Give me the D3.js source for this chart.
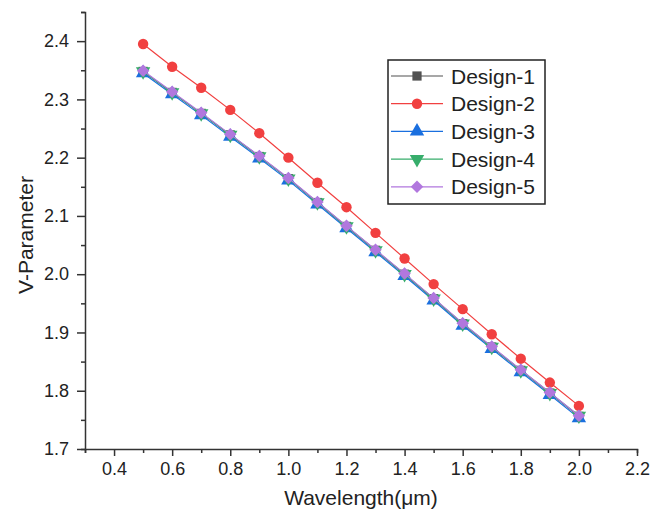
<!DOCTYPE html>
<html>
<head>
<meta charset="utf-8">
<script src="https://cdn.jsdelivr.net/npm/d3@7"></script>
<style>
  body { margin: 0; background: #fff; }
  svg { font-family: "Liberation Sans", Arial, sans-serif; }
</style>
</head>
<body>
<div id="container"></div>
<script>
/* DATA */
const wavelength = [0.5, 0.6, 0.7, 0.8, 0.9, 1.0, 1.1, 1.2, 1.3, 1.4, 1.5, 1.6, 1.7, 1.8, 1.9, 2.0];
const design1 = [2.348, 2.312, 2.276, 2.239, 2.202, 2.164, 2.123, 2.082, 2.041, 2.000, 1.958, 1.915, 1.875, 1.835, 1.796, 1.756];
const design2 = [2.395, 2.356, 2.320, 2.282, 2.242, 2.200, 2.157, 2.115, 2.071, 2.027, 1.983, 1.940, 1.897, 1.855, 1.814, 1.774];
const design3 = [2.345, 2.309, 2.273, 2.236, 2.199, 2.161, 2.120, 2.079, 2.038, 1.997, 1.955, 1.912, 1.872, 1.832, 1.793, 1.753];
const design4 = [2.348, 2.312, 2.276, 2.239, 2.202, 2.164, 2.123, 2.082, 2.041, 2.000, 1.958, 1.915, 1.875, 1.835, 1.796, 1.757];
const design5 = [2.349, 2.313, 2.277, 2.240, 2.203, 2.165, 2.124, 2.083, 2.042, 2.001, 1.959, 1.916, 1.876, 1.836, 1.797, 1.757];
const seriesNames = ["Design-1", "Design-2", "Design-3", "Design-4", "Design-5"];
const seriesColors = ["#515151", "#F14040", "#1A6FDF", "#37AD6B", "#B177DE"];
const xMajor = [0.4, 0.6, 0.8, 1.0, 1.2, 1.4, 1.6, 1.8, 2.0, 2.2];
const xMinor = [0.3, 0.5, 0.7, 0.9, 1.1, 1.3, 1.5, 1.7, 1.9, 2.1];
const yMajor = [1.7, 1.8, 1.9, 2.0, 2.1, 2.2, 2.3, 2.4];
const yMinor = [1.75, 1.85, 1.95, 2.05, 2.15, 2.25, 2.35, 2.45];

/* CONSTANTS */
const width = 660, height = 518;
const margin = { top: 12, right: 23, bottom: 69, left: 85 };

// marker: symbol type, size, rotation (down triangle = triangle turned, diamond = square turned)
const series = [design1, design2, design3, design4, design5].map((vals, i) => ({
  name: seriesNames[i],
  color: seriesColors[i],
  symbol: [d3.symbolSquare, d3.symbolCircle, d3.symbolTriangle, d3.symbolTriangle, d3.symbolSquare][i],
  rot: [0, 0, 0, 180, 45][i],
  size: [85, 85, 90, 90, 78][i],
  values: vals.map((v, j) => ({ x: wavelength[j], y: v }))
}));

const svg = d3.select("#container").append("svg")
  .attr("width", width)
  .attr("height", height);

const xScale = d3.scaleLinear()
  .domain([0.3, 2.2])
  .range([margin.left, width - margin.right]);

const yScale = d3.scaleLinear()
  .domain([1.7, 2.45])
  .range([height - margin.bottom, margin.top]);

const axisColor = "#333";

// x axis: minor, then major
const xg = svg.append("g").attr("transform", `translate(0, ${height - margin.bottom})`);
xg.call(d3.axisBottom(xScale).tickValues(xMinor).tickSize(4).tickFormat(""));
xg.append("g").call(d3.axisBottom(xScale).tickValues(xMajor).tickSize(7).tickPadding(6).tickFormat(d3.format(".1f")));
xg.selectAll("path.domain").attr("stroke", axisColor).attr("stroke-width", 1.5);
xg.selectAll("g g path.domain").remove();
xg.selectAll(".tick line").attr("stroke", axisColor).attr("stroke-width", 1.5);
xg.selectAll(".tick text").attr("fill", "#222").style("font-size", "18px");

// y axis
const yg = svg.append("g").attr("transform", `translate(${margin.left}, 0)`);
yg.call(d3.axisLeft(yScale).tickValues(yMinor).tickSize(4).tickFormat(""));
yg.append("g").call(d3.axisLeft(yScale).tickValues(yMajor).tickSize(8).tickPadding(8).tickFormat(d3.format(".1f")));
yg.selectAll("path.domain").attr("stroke", axisColor).attr("stroke-width", 1.5);
yg.selectAll("g g path.domain").remove();
yg.selectAll(".tick line").attr("stroke", axisColor).attr("stroke-width", 1.5);
yg.selectAll(".tick text").attr("fill", "#222").style("font-size", "18px");

// axis titles
svg.append("text")
  .attr("x", (margin.left + width - margin.right) / 2)
  .attr("y", 505)
  .attr("text-anchor", "middle")
  .style("font-size", "21px")
  .attr("fill", "#222")
  .text("Wavelength(μm)");

svg.append("text")
  .attr("transform", `translate(33, 235) rotate(-90)`)
  .attr("text-anchor", "middle")
  .style("font-size", "21px")
  .attr("fill", "#222")
  .text("V-Parameter");

// lines and markers
const line = d3.line().x(d => xScale(d.x)).y(d => yScale(d.y));

series.forEach(s => {
  const g = svg.append("g");
  g.append("path")
    .datum(s.values)
    .attr("fill", "none")
    .attr("stroke", s.color)
    .attr("stroke-width", 1.2)
    .attr("d", line);
  g.selectAll("path.pt")
    .data(s.values)
    .join("path")
    .attr("class", "pt")
    .attr("d", d3.symbol().type(s.symbol).size(s.size))
    .attr("transform", d => `translate(${xScale(d.x)}, ${yScale(d.y)}) rotate(${s.rot})`)
    .attr("fill", s.color);
});

// legend
const legend = svg.append("g");
legend.append("rect")
  .attr("x", 388).attr("y", 60)
  .attr("width", 157).attr("height", 144)
  .attr("fill", "#fff")
  .attr("stroke", "#222")
  .attr("stroke-width", 1.5);

const rows = legend.selectAll("g.row")
  .data(series)
  .join("g")
  .attr("class", "row")
  .attr("transform", (d, i) => `translate(0, ${76 + i * 27.7})`);

rows.append("line")
  .attr("x1", 391).attr("x2", 443)
  .attr("stroke", d => d.color)
  .attr("stroke-width", 1.2);

rows.append("path")
  .attr("d", d => d3.symbol().type(d.symbol).size(d.size)())
  .attr("transform", d => `translate(417, 0) rotate(${d.rot})`)
  .attr("fill", d => d.color);

rows.append("text")
  .attr("x", 451)
  .attr("y", 7.5)
  .style("font-size", "21px")
  .attr("fill", "#222")
  .text(d => d.name);
</script>
</body>
</html>
